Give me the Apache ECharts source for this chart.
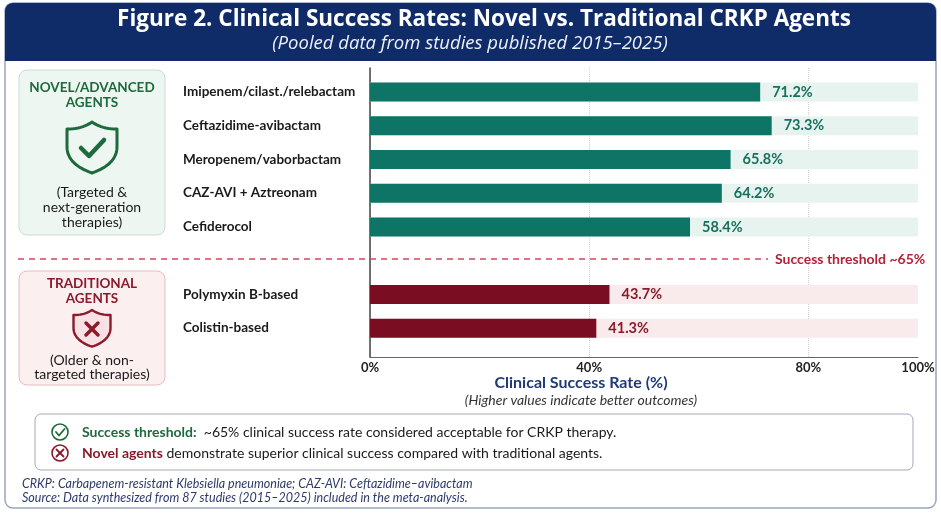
<!DOCTYPE html>
<html><head><meta charset="utf-8">
<script src="https://cdn.jsdelivr.net/npm/echarts@6/dist/echarts.min.js"></script>
<style>html,body{margin:0;padding:0;background:#fff}#c{width:941px;height:514px}</style>
</head><body><div id="c"></div>
<script>
// ---- data ----
const novelAgents = ['Imipenem/cilast./relebactam','Ceftazidime-avibactam','Meropenem/vaborbactam','CAZ-AVI + Aztreonam','Cefiderocol'];
const novelRates = [71.2, 73.3, 65.8, 64.2, 58.4];
const traditionalAgents = ['Polymyxin B-based','Colistin-based'];
const traditionalRates = [43.7, 41.3];
const xTickValues = [0, 40, 80, 100];
const gridLineValues = [0, 40, 80];
const thresholdLabel = 'Success threshold ~65%';

const SPACER = ' ';
const categories = novelAgents.concat([SPACER], traditionalAgents);

const FONT = 'Lato, "Open Sans", sans-serif';
const TFONT = '"Open Sans", Lato, sans-serif';
const GREEN = '#1d6a3c', RED = '#8c1a2c', TEAL = '#0e7466', TEAL_TXT = '#17705f', MAROON = '#7b0d23';

const chart = echarts.init(document.getElementById('c'), null, {renderer:'canvas'});

// shield outline sampled from bezier segments (decoration only)
function cubic(p0,p1,p2,p3,n){const o=[];for(let i=1;i<=n;i++){const t=i/n,u=1-t;o.push([u*u*u*p0[0]+3*u*u*t*p1[0]+3*u*t*t*p2[0]+t*t*t*p3[0],u*u*u*p0[1]+3*u*u*t*p1[1]+3*u*t*t*p2[1]+t*t*t*p3[1]]);}return o;}
function shield(cx,cy,sx,sy){
  let pts=[[0,-25]];
  pts=pts.concat(cubic([0,-25],[7,-20],[15,-18],[25,-18],10));
  pts.push([25,0]);
  pts=pts.concat(cubic([25,0],[25,13],[14,21],[0,26],14));
  pts=pts.concat(cubic([0,26],[-14,21],[-25,13],[-25,0],14));
  pts.push([-25,-18]);
  pts=pts.concat(cubic([-25,-18],[-15,-18],[-7,-20],[0,-25],10));
  return pts.map(p=>[cx+p[0]*sx, cy+p[1]*sy]);
}

function txt(x, y, text, o) {
  return {type:'text', x:x, y:y, silent:true, z:10, style:Object.assign({text:text, fill:'#1a1a1a', fontFamily:FONT, fontSize:14, align:'center', verticalAlign:'middle'}, o||{})};
}
function pl(points, color, w) {
  return {type:'polyline', silent:true, z:10, shape:{points:points}, style:{fill:null, stroke:color, lineWidth:w, lineCap:'round', lineJoin:'round'}};
}

const graphics = [
  // card
  {type:'rect', shape:{x:5,y:3,width:931,height:505,r:8}, style:{fill:'#fff', stroke:'#9ca3bf', lineWidth:1.5}, z:-10, silent:true},
  {type:'rect', shape:{x:5,y:3,width:931,height:58,r:[8,8,0,0]}, style:{fill:'#0f2c68'}, z:-9, silent:true},
  txt(484, 20, 'Figure 2. Clinical Success Rates: Novel vs. Traditional CRKP Agents', {fill:'#fff', fontSize:22.5, fontWeight:'bold', fontFamily:TFONT}),
  txt(470, 44, '(Pooled data from studies published 2015\u20132025)', {fill:'#eef1f8', fontSize:18.5, fontStyle:'italic', fontFamily:TFONT}),
  // left panels
  {type:'rect', shape:{x:19,y:70,width:146,height:165,r:8}, style:{fill:'#eef6f2', stroke:'#c7dfd2', lineWidth:1}, z:-5, silent:true},
  txt(92, 88, 'NOVEL/ADVANCED', {fill:GREEN, fontWeight:'bold', fontSize:13.5}),
  txt(92, 103, 'AGENTS', {fill:GREEN, fontWeight:'bold', fontSize:13.5}),
  {type:'polygon', silent:true, z:9, shape:{points:shield(92,147,1,1)}, style:{fill:'none', stroke:GREEN, lineWidth:3, lineJoin:'round'}},
  pl([[81,148],[89,156],[104,140]], GREEN, 4.5),
  txt(92, 192, '(Targeted &'),
  txt(92, 207, 'next-generation'),
  txt(92, 222, 'therapies)'),
  {type:'rect', shape:{x:19,y:271,width:146,height:114,r:8}, style:{fill:'#fbeff0', stroke:'#e3bcc2', lineWidth:1}, z:-5, silent:true},
  txt(92, 284, 'TRADITIONAL', {fill:RED, fontWeight:'bold', fontSize:13.5}),
  txt(92, 299, 'AGENTS', {fill:RED, fontWeight:'bold', fontSize:13.5}),
  {type:'polygon', silent:true, z:9, shape:{points:shield(92,328,0.74,0.72)}, style:{fill:'#f8e1e4', stroke:RED, lineWidth:2.4, lineJoin:'round'}},
  pl([[86,323],[98,335]], RED, 3.5),
  pl([[98,323],[86,335]], RED, 3.5),
  txt(92, 360, '(Older & non-'),
  txt(92, 374, 'targeted therapies)'),
  // threshold separator
  {type:'line', shape:{x1:18,y1:259,x2:768,y2:259}, style:{stroke:'#cc4a58', lineWidth:1.4, lineDash:[6,5]}, z:5, silent:true},
  txt(775, 259, thresholdLabel, {fill:'#b52238', fontWeight:'bold', fontSize:14, align:'left'}),
  // axis title
  txt(581, 383, 'Clinical Success Rate (%)', {fill:'#1f3a78', fontWeight:'bold', fontSize:16}),
  txt(581, 400, '(Higher values indicate better outcomes)', {fill:'#333', fontStyle:'italic', fontSize:14}),
  // footer box
  {type:'rect', shape:{x:35,y:414,width:878,height:56,r:6}, style:{fill:'#fff', stroke:'#a3a8bf', lineWidth:1}, z:-5, silent:true},
  {type:'circle', shape:{cx:60,cy:432,r:8}, style:{fill:'none', stroke:GREEN, lineWidth:1.6}, silent:true},
  pl([[56,432],[59,435.5],[64.5,429]], GREEN, 1.8),
  {type:'circle', shape:{cx:60,cy:453,r:8}, style:{fill:'none', stroke:RED, lineWidth:1.6}, silent:true},
  pl([[56.5,449.5],[63.5,456.5]], RED, 1.8),
  pl([[63.5,449.5],[56.5,456.5]], RED, 1.8),
  {type:'text', x:82, y:432, silent:true, style:{text:'{g|Success threshold:}  ~65% clinical success rate considered acceptable for CRKP therapy.', fontFamily:FONT, fontSize:14, fill:'#1a1a1a', verticalAlign:'middle', rich:{g:{fill:GREEN, fontWeight:'bold', fontFamily:FONT, fontSize:14}}}},
  {type:'text', x:82, y:453, silent:true, style:{text:'{r|Novel agents} demonstrate superior clinical success compared with traditional agents.', fontFamily:FONT, fontSize:14, fill:'#1a1a1a', verticalAlign:'middle', rich:{r:{fill:RED, fontWeight:'bold', fontFamily:FONT, fontSize:14}}}},
  // footnotes
  txt(22, 484, 'CRKP: Carbapenem-resistant Klebsiella pneumoniae; CAZ-AVI: Ceftazidime\u2013avibactam', {fill:'#2d3a6b', fontStyle:'italic', fontSize:12.5, align:'left'}),
  txt(22, 498, 'Source: Data synthesized from 87 studies (2015\u20132025) included in the meta-analysis.', {fill:'#2d3a6b', fontStyle:'italic', fontSize:12.5, align:'left'})
];

const option = {
  animation:false,
  textStyle:{fontFamily:FONT},
  grid:[
    {left:370, right:23, top:75, bottom:169},
    {left:370, right:23, top:68, bottom:157}
  ],
  xAxis:[
    {gridIndex:0, type:'value', min:0, max:100, show:false},
    {gridIndex:1, type:'value', min:0, max:100,
     axisLine:{show:true, lineStyle:{color:'#666', width:1.2}},
     axisTick:{show:false, customValues:gridLineValues},
     axisLabel:{customValues:xTickValues, formatter:v=>v+'%', color:'#222', fontSize:13, fontFamily:FONT, fontWeight:'bold', margin:4},
     splitLine:{show:true, lineStyle:{color:'#cfcfcf', type:'dotted', width:1}}}
  ],
  yAxis:[
    {gridIndex:0, type:'category', data:categories, inverse:true,
     axisLine:{show:false}, axisTick:{show:false},
     axisLabel:{align:'left', margin:187, color:'#1a1a1a', fontSize:13.5, fontWeight:'bold', fontFamily:FONT}},
    {gridIndex:1, type:'value', min:0, max:1, axisLine:{show:true, lineStyle:{color:'#444', width:1.5}},
     axisLabel:{show:false}, axisTick:{show:false}, splitLine:{show:false}}
  ],
  series:[
    {name:'Novel', type:'bar', xAxisIndex:0, yAxisIndex:0, barWidth:19, barGap:'-100%',
     data:novelAgents.map((a,i)=>[novelRates[i], a]),
     itemStyle:{color:TEAL},
     showBackground:true, backgroundStyle:{color:'#e7f3ef'},
     label:{show:true, position:'right', distance:12, formatter:p=>p.value[0].toFixed(1)+'%', color:TEAL_TXT, fontWeight:'bold', fontSize:14.5, fontFamily:FONT}},
    {name:'Traditional', type:'bar', xAxisIndex:0, yAxisIndex:0, barWidth:19, barGap:'-100%',
     data:traditionalAgents.map((a,i)=>[traditionalRates[i], a]),
     itemStyle:{color:MAROON},
     showBackground:true, backgroundStyle:{color:'#f9eaeb'},
     label:{show:true, position:'right', distance:12, formatter:p=>p.value[0].toFixed(1)+'%', color:RED, fontWeight:'bold', fontSize:14.5, fontFamily:FONT}}
  ],
  graphic:graphics
};
chart.setOption(option);
</script></body></html>
